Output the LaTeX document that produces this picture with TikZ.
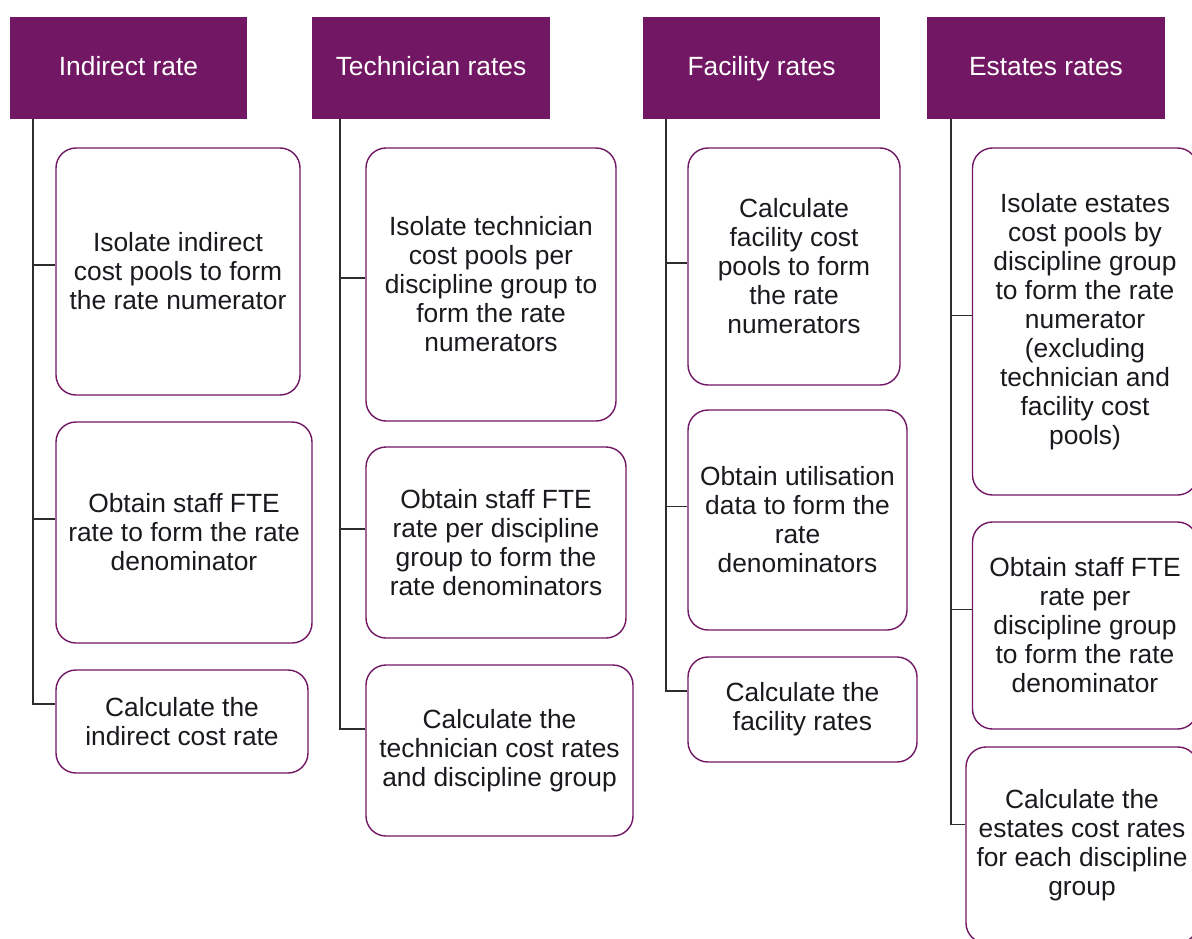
\documentclass[tikz,border=0pt]{standalone}
\usepackage{fontspec}
\setmainfont{Liberation Sans}
\usepackage{tikz}
\usetikzlibrary{positioning}
\usepackage{xcolor}
\definecolor{ratepurple}{RGB}{113,23,99}
\definecolor{ratetext}{RGB}{25,25,30}
\definecolor{rateline}{RGB}{45,45,45}
\tikzstyle{header} = [rectangle, fill=ratepurple, text=white, minimum height=2.04cm, inner sep=0pt, text height=0.95em, text depth=0.14em, font=\fontsize{15}{16.5}\selectfont]
\tikzstyle{stepbox} = [rectangle, rounded corners=0.4cm, draw=ratepurple, line width=0.8pt, text=ratetext, align=center, inner sep=0pt, font=\fontsize{15}{16.5}\selectfont]
\tikzstyle{link} = [line width=0.95pt, color=rateline]

\begin{document}
\begin{tikzpicture}
\useasboundingbox (0,0) rectangle (23.84,-18.76);
\clip (0,0) rectangle (23.84,-18.76);

% Headers
\node[header, minimum width=4.74cm] (h1) at (2.57,-1.36) {Indirect rate};
\node[header, minimum width=4.76cm] (h2) at (8.62,-1.36) {Technician rates};
\node[header, minimum width=4.74cm] (h3) at (15.23,-1.36) {Facility rates};
\node[header, minimum width=4.76cm] (h4) at (20.92,-1.36) {Estates rates};

% Trunks
\coordinate (t1) at (0.66,-2.38);
\coordinate (t2) at (6.80,-2.38);
\coordinate (t3) at (13.32,-2.38);
\coordinate (t4) at (19.02,-2.38);

% Indirect rate steps
\node[stepbox, minimum width=4.88cm, minimum height=4.94cm] (b11) at (3.56,-5.43) {Isolate indirect\\cost pools to form\\the rate numerator};
\node[stepbox, minimum width=5.12cm, minimum height=4.42cm] (b12) at (3.68,-10.65) {Obtain staff FTE\\rate to form the rate\\denominator};
\node[stepbox, minimum width=5.04cm, minimum height=2.06cm] (b13) at (3.64,-14.43) {Calculate the\\indirect cost rate};

% Technician rates steps
\node[stepbox, minimum width=5.00cm, minimum height=5.46cm] (b21) at (9.82,-5.69) {Isolate technician\\cost pools per\\discipline group to\\form the rate\\numerators};
\node[stepbox, minimum width=5.20cm, minimum height=3.82cm] (b22) at (9.92,-10.85) {Obtain staff FTE\\rate per discipline\\group to form the\\rate denominators};
\node[stepbox, minimum width=5.34cm, minimum height=3.42cm] (b23) at (9.99,-15.01) {Calculate the\\technician cost rates\\and discipline group};

% Facility rates steps
\node[stepbox, minimum width=4.24cm, minimum height=4.74cm] (b31) at (15.88,-5.33) {Calculate\\facility cost\\pools to form\\the rate\\numerators};
\node[stepbox, minimum width=4.38cm, minimum height=4.40cm] (b32) at (15.95,-10.40) {Obtain utilisation\\data to form the\\rate\\denominators};
\node[stepbox, minimum width=4.58cm, minimum height=2.10cm] (b33) at (16.05,-14.19) {Calculate the\\facility rates};

% Estates rates steps
\node[stepbox, minimum width=4.50cm, minimum height=6.94cm] (b41) at (21.70,-6.43) {Isolate estates\\cost pools by\\discipline group\\to form the rate\\numerator\\(excluding\\technician and\\facility cost\\pools)};
\node[stepbox, minimum width=4.50cm, minimum height=4.14cm] (b42) at (21.70,-12.51) {Obtain staff FTE\\rate per\\discipline group\\to form the rate\\denominator};
\node[stepbox, minimum width=4.64cm, minimum height=3.92cm] (b43) at (21.64,-16.90) {Calculate the\\estates cost rates\\for each discipline\\group};

% Links
\draw[link] (t1) |- (b11.177);
\draw[link] (t1) |- (b12.174);
\draw[link] (t1) |- (b13.172);
\draw[link] (t2) |- (b21.177);
\draw[link] (t2) |- (b22.174);
\draw[link] (t2) |- (b23.171);
\draw[link] (t3) |- (b31.178);
\draw[link] (t3) |- (b32.173);
\draw[link] (t3) |- (b33.171);
\draw[link] (t4) |- (b41.177);
\draw[link] (t4) |- (b42.172);
\draw[link] (t4) |- (b43.170);
\end{tikzpicture}
\end{document}
